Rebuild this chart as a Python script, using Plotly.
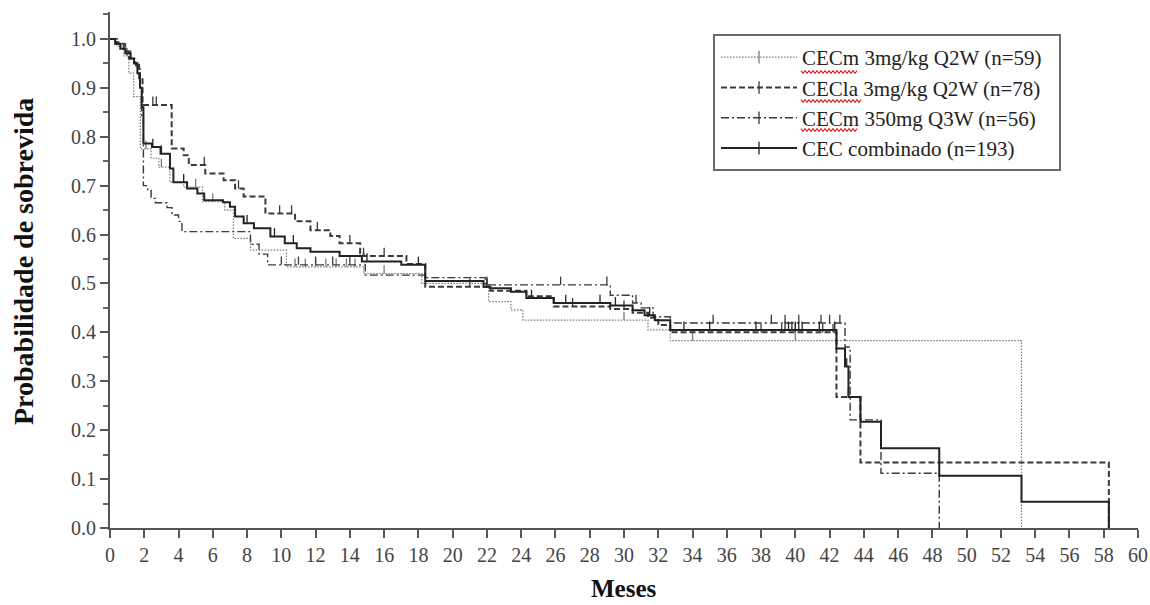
import plotly.graph_objects as go

# ---------------- data (months, survival probability) ----------------
names = ["CECm 3mg/kg Q2W (n=59)", "CECla 3mg/kg Q2W (n=78)",
         "CECm 350mg Q3W (n=56)", "CEC combinado (n=193)"]

t_m3 = [0, 0.4, 0.8, 1.1, 1.38, 1.77, 2.4, 2.85, 3.5, 4.3, 5.4, 6.7, 7.2, 8.2, 10.3,
        14.8, 18.2, 22.1, 23.4, 24.1, 31.4, 32.7, 53.2]
s_m3 = [1.0, 0.985, 0.965, 0.93, 0.882, 0.775, 0.756, 0.738, 0.707, 0.697, 0.667, 0.65,
        0.592, 0.568, 0.534, 0.52, 0.50, 0.463, 0.446, 0.425, 0.405, 0.383, 0.0]

t_la = [0, 0.4, 0.8, 1.1, 1.4, 1.7, 1.9, 3.6, 4.3, 4.6, 5.56, 6.63, 7.3, 7.8, 9.07, 10.8,
        11.7, 12.86, 13.4, 14.6, 14.8, 17.3, 18.4, 22.2, 24.3, 25.9, 29.2, 30.5, 31.4,
        32.0, 32.7, 42.4, 43.8, 58.3]
s_la = [1.0, 0.99, 0.975, 0.96, 0.95, 0.92, 0.865, 0.776, 0.762, 0.742, 0.725, 0.711,
        0.694, 0.678, 0.643, 0.627, 0.609, 0.597, 0.582, 0.562, 0.556, 0.54, 0.493, 0.485,
        0.474, 0.453, 0.448, 0.44, 0.43, 0.415, 0.40, 0.268, 0.134, 0.0]

t_m350 = [0, 0.5, 0.9, 1.2, 1.5, 1.75, 1.85, 1.95, 2.2, 2.4, 2.65, 3.33, 3.62, 4.0, 4.2,
          8.2, 8.7, 9.2, 14.9, 18.4, 21.9, 29.2, 30.5, 31.0, 31.7, 32.7, 42.9, 43.2,
          45.0, 48.4]
s_m350 = [1.0, 0.99, 0.975, 0.96, 0.945, 0.90, 0.84, 0.70, 0.69, 0.674, 0.665, 0.655,
          0.64, 0.627, 0.606, 0.58, 0.56, 0.538, 0.517, 0.512, 0.497, 0.476,
          0.46, 0.45, 0.432, 0.419, 0.37, 0.221, 0.112, 0.0]

t_all = [0, 0.3, 0.6, 0.9, 1.2, 1.4, 1.6, 1.75, 1.85, 1.95, 2.45, 2.95, 3.5, 3.7, 4.5,
         5.1, 5.5, 6.6, 7.0, 7.3, 7.8, 8.4, 9.36, 10.2, 10.9, 11.7, 13.4, 14.7, 17.0, 18.4,
         21.8, 22.2, 23.4, 24.3, 25.9, 29.2, 30.5, 31.2, 31.8, 32.7, 42.4, 42.9, 43.1, 43.8,
         45.0, 48.4, 53.2, 58.3]
s_all = [1.0, 0.99, 0.98, 0.97, 0.96, 0.95, 0.93, 0.90, 0.86, 0.786, 0.779, 0.765, 0.735,
         0.707, 0.694, 0.684, 0.670, 0.666, 0.657, 0.637, 0.623, 0.613, 0.596, 0.582, 0.572,
         0.565, 0.556, 0.545, 0.538, 0.505, 0.493, 0.490, 0.483, 0.470, 0.460, 0.455, 0.445,
         0.435, 0.425, 0.405, 0.367, 0.33, 0.268, 0.217, 0.163, 0.107, 0.0535, 0.0]

# censoring times (months)
c_m3 = [1.0, 2.1, 3.0, 5.0, 6.0, 10.8, 11.4, 12.0, 12.6, 13.2, 13.8, 14.3, 16.0, 30.0,
        34.0, 40.0]
c_la = [2.5, 2.7, 5.5, 7.5, 9.9, 10.6, 12.1, 14.0, 14.8, 16.0, 21.0, 27.0, 30.0, 38.0,
        39.2, 40.0, 41.6, 42.2]
c_m350 = [10.0, 11.0, 12.0, 13.0, 14.0, 22.0, 26.3, 29.0, 30.7, 35.2, 38.6, 39.4, 40.2,
          41.5, 42.0, 42.6]
c_all = [2.5, 3.0, 4.3, 8.0, 9.6, 10.7, 15.0, 18.0, 22.0, 24.6, 26.6, 28.6, 29.5, 31.5,
         33.5, 35.0, 37.7, 39.4, 39.6, 39.8, 40.0, 40.2, 40.4, 41.4, 42.3, 43.0, 43.1]

x_ticks = list(range(0, 61, 2))
y_ticks = [round(i * 0.1, 1) for i in range(11)]

# ---------------- styles ----------------
styles = [
    dict(color="#7a7a7a", width=1.2, dash="1.5px,1.5px"),
    dict(color="#3a3a3a", width=2.0, dash="6px,3px"),
    dict(color="#3a3a3a", width=1.4, dash="8px,3px,2px,3px"),
    dict(color="#222222", width=2.0, dash="solid"),
]
series = [(t_m3, s_m3, c_m3), (t_la, s_la, c_la), (t_m350, s_m350, c_m350),
          (t_all, s_all, c_all)]

FONT = "Liberation Serif, Times New Roman, serif"
W, H = 1150, 605
ML, MR, MT, MB = 110, 12, 12, 77
PW, PH = W - ML - MR, H - MT - MB


def surv_at(ts, ss, t):
    idx = 0
    for i, x in enumerate(ts):
        if x <= t:
            idx = i
    return ss[idx]


def px2paper(px, py):
    return (px - ML) / PW, (H - MB - py) / PH


fig = go.Figure()
TICK_H = 0.017
for (ts, ss, cs), st, nm in zip(series, styles, names):
    fig.add_trace(go.Scatter(x=ts, y=ss, mode="lines", line_shape="hv",
                             line=dict(color=st["color"], width=st["width"], dash=st["dash"]),
                             showlegend=False, hoverinfo="skip"))
    cx, cy = [], []
    for c in cs:
        s = surv_at(ts, ss, c)
        cx += [c, c, None]
        cy += [s, s + TICK_H, None]
    fig.add_trace(go.Scatter(x=cx, y=cy, mode="lines",
                             line=dict(color=st["color"], width=1.3),
                             showlegend=False, hoverinfo="skip"))
    fig.add_trace(go.Scatter(x=[None], y=[None], mode="lines+markers", name=nm,
                             line=dict(color=st["color"], width=st["width"], dash=st["dash"]),
                             marker=dict(symbol="line-ns", size=9,
                                         line=dict(color=st["color"], width=1.3))))

shapes = []
# legend frame
bx0, by0 = px2paper(714, 170)
bx1, by1 = px2paper(1060, 35)
shapes.append(dict(type="rect", xref="paper", yref="paper", x0=bx0, y0=by0, x1=bx1, y1=by1,
                   line=dict(color="#6a6a6a", width=2), fillcolor="rgba(255,255,255,0)",
                   layer="above"))
# red spell-check squiggles under the abbreviations in the legend
for (x0, x1, yy) in [(801, 858, 72), (801, 862, 101), (801, 858, 130)]:
    pts = []
    k = 0
    x = x0
    while x <= x1:
        py = yy + (1.3 if k % 2 else -1.3)
        pts.append(px2paper(x, py))
        x += 2
        k += 1
    path = "M " + " L ".join(f"{a:.5f},{b:.5f}" for a, b in pts)
    shapes.append(dict(type="path", path=path, xref="paper", yref="paper",
                       line=dict(color="#e02020", width=1.1)))

fig.update_layout(
    width=W, height=H,
    margin=dict(l=ML, r=MR, t=MT, b=MB, autoexpand=False),
    paper_bgcolor="white", plot_bgcolor="white",
    font=dict(family=FONT, color="#333333", size=20),
    showlegend=True,
    legend=dict(x=0.5895, y=0.9515, xanchor="left", yanchor="top",
                bgcolor="rgba(255,255,255,0)", borderwidth=0,
                font=dict(family=FONT, size=21, color="#222222"),
                itemwidth=76, tracegroupgap=0),
    shapes=shapes,
    xaxis=dict(range=[0, 60], tickvals=x_ticks, ticktext=[str(v) for v in x_ticks],
               automargin=False,
               showgrid=False, zeroline=False, showline=True, linecolor="#555555",
               linewidth=2, ticks="outside", ticklen=8, tickwidth=2, tickcolor="#555555",
               tickfont=dict(family=FONT, size=20, color="#444444")),
    yaxis=dict(range=[0, 1.055], tickvals=y_ticks, ticktext=[f"{v:.1f}" for v in y_ticks],
               automargin=False,
               showgrid=False, zeroline=False, showline=True, linecolor="#555555",
               linewidth=2, ticks="outside", ticklen=8, tickwidth=2, tickcolor="#555555",
               tickfont=dict(family=FONT, size=20, color="#444444"),
               minor=dict(dtick=0.05, ticks="outside", ticklen=5, tickwidth=1.5,
                          tickcolor="#666666", showgrid=False)),
    annotations=[
        dict(text="<b>Meses</b>", xref="paper", yref="paper", x=0.5,
             y=px2paper(0, 588)[1], xanchor="center", yanchor="middle", showarrow=False,
             font=dict(family=FONT, size=25, color="#111111")),
        dict(text="<b>Probabilidade de sobrevida</b>", xref="paper", yref="paper",
             x=px2paper(23, 0)[0], y=px2paper(0, 262)[1], xanchor="center",
             yanchor="middle", textangle=-90, showarrow=False,
             font=dict(family=FONT, size=28, color="#111111")),
    ],
)

fig.write_html("out.html")
